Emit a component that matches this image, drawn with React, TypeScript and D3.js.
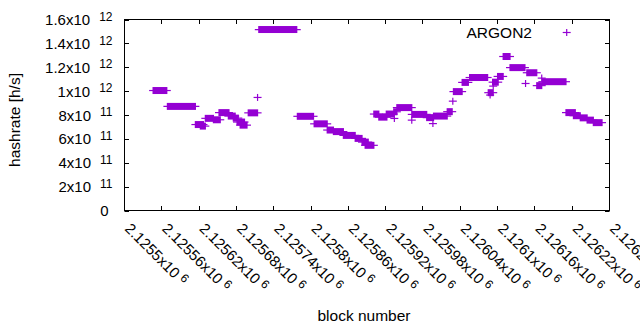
import React from "react";
import * as d3 from "d3";

// ---- data (block ranges with constant hashrate; start === end is a single point) ----
const runStart = [
  2125546, 2125569, 2125614, 2125622, 2125630, 2125643, 2125652, 2125667, 2125675, 2125681,
  2125686, 2125699, 2125714, 2125716, 2125778, 2125805, 2125826, 2125836, 2125852, 2125871,
  2125882, 2125887, 2125901, 2125909, 2125921, 2125933, 2125934, 2125938, 2125962, 2125962,
  2125986, 2125996, 2125997, 2126019, 2126028, 2126029, 2126043, 2126055, 2126085, 2126088,
  2126092, 2126093, 2126100, 2126109, 2126120, 2126145, 2126147, 2126163, 2126171, 2126172,
  2126210, 2126222, 2126233, 2126244, 2126254,
];
const runEnd = [
  2125568, 2125614, 2125627, 2125630, 2125643, 2125654, 2125668, 2125678, 2125683, 2125693,
  2125697, 2125714, 2125714, 2125777, 2125804, 2125826, 2125836, 2125852, 2125871, 2125882,
  2125892, 2125901, 2125909, 2125922, 2125933, 2125938, 2125934, 2125962, 2125962, 2125986,
  2125997, 2125996, 2126019, 2126027, 2126028, 2126043, 2126053, 2126084, 2126093, 2126088,
  2126101, 2126093, 2126109, 2126120, 2126144, 2126145, 2126163, 2126171, 2126171, 2126210,
  2126225, 2126233, 2126244, 2126254, 2126268,
];
const runValue = [
  1005e9, 872e9, 720e9, 707e9, 772e9, 760e9, 820e9, 791e9, 774e9, 741e9,
  715e9, 818e9, 947e9, 1516e9, 789e9, 726e9, 674e9, 661e9, 629e9, 604e9,
  573e9, 546e9, 808e9, 782e9, 808e9, 827e9, 771e9, 862e9, 757e9, 805e9,
  778e9, 728e9, 791e9, 828e9, 916e9, 996e9, 1073e9, 1114e9, 987e9, 967e9,
  1075e9, 1042e9, 1123e9, 1290e9, 1197e9, 1064e9, 1154e9, 1046e9, 1109e9, 1079e9,
  820e9, 794e9, 776e9, 757e9, 736e9,
];

const xTickValues = [
  2125500, 2125560, 2125620, 2125680, 2125740, 2125800, 2125860,
  2125920, 2125980, 2126040, 2126100, 2126160, 2126220, 2126280,
];
const xTickMantissa = [
  "2.1255", "2.12556", "2.12562", "2.12568", "2.12574", "2.1258", "2.12586",
  "2.12592", "2.12598", "2.12604", "2.1261", "2.12616", "2.12622", "2.12628",
];
const xTickExponent = "6";

const yTickValues = [0, 2e11, 4e11, 6e11, 8e11, 1e12, 1.2e12, 1.4e12, 1.6e12];
const yTickMantissa = ["0", "2", "4", "6", "8", "1", "1.2", "1.4", "1.6"];
const yTickExponent = ["", "11", "11", "11", "11", "12", "12", "12", "12"];

const seriesName = "ARGON2";
const xTitle = "block number";
const yTitle = "hashrate [h/s]";

// ---- layout ----
const W = 640;
const H = 330;
const L = 124.5;
const R = 609.5;
const T = 19.5;
const B = 210.5;
const COLOR = "#9400d3";
const FONT = "'Liberation Sans', Arial, sans-serif";
const FS = 15;
const FS_T = 15.5;
const SUP = 12;
const TICK = 4.5;
const HA = 4; // horizontal arm of '+'
const VA = 3.5; // vertical arm of '+'

export default function App() {
  const x = d3.scaleLinear().domain([2125500, 2126280]).range([L, R]);
  const y = d3.scaleLinear().domain([0, 1.6e12]).range([B, T]);

  const runs = d3.range(runStart.length).map((i) => ({
    x0: x(runStart[i]),
    x1: x(runEnd[i]),
    y: y(runValue[i]),
  }));

  const legendX = 566.7;
  const legendY = 32.5;

  return (
    <svg
      width={W}
      height={H}
      style={{ position: "absolute", left: 0, top: 0, background: "#fff" }}
      fontFamily={FONT}
    >
      <rect x={0} y={0} width={W} height={H} fill="#fff" />

      {/* ticks (inward, mirrored) */}
      <g stroke="#000" strokeWidth={1}>
        {yTickValues.map((v, i) => {
          const yy = Math.round(y(v)) + 0.5;
          return (
            <g key={"yt" + i}>
              <line x1={L} x2={L + TICK} y1={yy} y2={yy} />
              <line x1={R - TICK} x2={R} y1={yy} y2={yy} />
            </g>
          );
        })}
        {xTickValues.map((v, i) => {
          const xx = Math.round(x(v) - 0.5) + 0.5;
          return (
            <g key={"xt" + i}>
              <line x1={xx} x2={xx} y1={B} y2={B - TICK} />
              <line x1={xx} x2={xx} y1={T} y2={T + TICK} />
            </g>
          );
        })}
      </g>

      {/* y tick labels */}
      <g fontSize={FS} fill="#000">
        {yTickValues.map((v, i) => {
          const yy = y(v) + 5.6;
          if (!yTickExponent[i]) {
            return (
              <text key={"yl" + i} x={108.5} y={yy} textAnchor="end">
                {yTickMantissa[i]}
              </text>
            );
          }
          return (
            <text key={"yl" + i} x={112.5} y={yy} textAnchor="end">
              {yTickMantissa[i] + "x10"}
              <tspan dx={9} dy={-4.4} fontSize={SUP}>
                {yTickExponent[i]}
              </tspan>
            </text>
          );
        })}
      </g>

      {/* x tick labels (rotated) */}
      <g fontSize={FS} fill="#000">
        {xTickValues.map((v, i) => {
          const xx = x(v) - 0.5;
          const yy = B + 19;
          return (
            <text
              key={"xl" + i}
              x={0}
              y={0}
              transform={`translate(${xx},${yy}) rotate(45)`}
              textAnchor="start"
            >
              {xTickMantissa[i] + "x10"}
              <tspan dx={4} dy={-4.4} fontSize={SUP}>
                {xTickExponent}
              </tspan>
            </text>
          );
        })}
      </g>

      {/* axis titles */}
      <text x={364} y={321} fontSize={FS_T} textAnchor="middle" fill="#000">
        {xTitle}
      </text>
      <text
        transform={`translate(20,120) rotate(-90)`}
        fontSize={FS_T}
        textAnchor="middle"
        fill="#000"
      >
        {yTitle}
      </text>

      {/* data */}
      <g fill={COLOR} stroke={COLOR}>
        {runs.map((r, i) => (
          <g key={"r" + i}>
            <line x1={r.x0 - HA} x2={r.x1 + HA} y1={r.y} y2={r.y} strokeWidth={1.2} />
            {r.x1 > r.x0 ? (
              <rect
                x={r.x0 - 0.6}
                y={r.y - VA}
                width={r.x1 - r.x0 + 1.2}
                height={VA * 2}
                stroke="none"
              />
            ) : (
              <line x1={r.x0} x2={r.x0} y1={r.y - VA} y2={r.y + VA} strokeWidth={1.2} />
            )}
          </g>
        ))}
      </g>

      {/* legend */}
      <text x={532} y={legendY + 5.4} fontSize={FS_T} textAnchor="end" fill="#000">
        {seriesName}
      </text>
      <g stroke={COLOR} strokeWidth={1.2}>
        <line x1={legendX - HA} x2={legendX + HA} y1={legendY} y2={legendY} />
        <line x1={legendX} x2={legendX} y1={legendY - VA} y2={legendY + VA} />
      </g>

      {/* frame */}
      <rect
        x={L}
        y={T}
        width={R - L}
        height={B - T}
        fill="none"
        stroke="#000"
        strokeWidth={1}
      />
    </svg>
  );
}
